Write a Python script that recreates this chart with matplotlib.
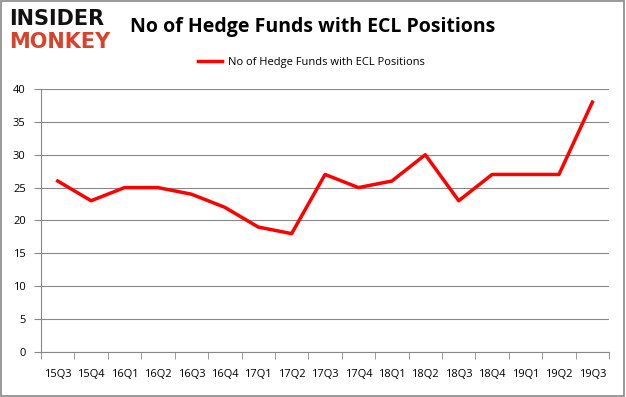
import numpy as np
import matplotlib
matplotlib.use("Agg")
import matplotlib.pyplot as plt
from matplotlib.patches import Rectangle

quarters = ["15Q3", "15Q4", "16Q1", "16Q2", "16Q3", "16Q4", "17Q1", "17Q2", "17Q3",
            "17Q4", "18Q1", "18Q2", "18Q3", "18Q4", "19Q1", "19Q2", "19Q3"]
hedge_funds = [26, 23, 25, 25, 24, 22, 19, 18, 27, 25, 26, 30, 23, 27, 27, 27, 38]
y_ticks = [0, 5, 10, 15, 20, 25, 30, 35, 40]

plt.rcParams["font.family"] = ["Open Sans", "DejaVu Sans"]

fig = plt.figure(figsize=(6.26, 3.97), dpi=100)
ax = fig.add_axes([0.0655, 0.1134, 0.9075, 0.6625])

x = np.arange(len(quarters))
ax.plot(x, hedge_funds, color="#ff0000", lw=2.5, label="No of Hedge Funds with ECL Positions")

ax.set_xlim(-0.5, len(quarters) - 0.5)
ax.set_ylim(0, 40)
ax.set_yticks(y_ticks)
ax.set_yticklabels([str(v) for v in y_ticks], fontsize=8)
ax.set_xticks(x)
ax.set_xticklabels(quarters, fontsize=8)
ax.set_xticks(np.arange(-0.5, len(quarters)), minor=True)
ax.tick_params(axis="x", which="major", length=0, pad=12)
ax.tick_params(axis="x", which="minor", length=5, color="#888888", direction="out")
ax.tick_params(axis="y", length=5, color="#888888", direction="out", pad=6)
ax.grid(axis="y", color="#888888", lw=0.8)
ax.set_axisbelow(True)
for side in ["top", "right"]:
    ax.spines[side].set_visible(False)
for side in ["left", "bottom"]:
    ax.spines[side].set_color("#888888")

leg = fig.legend(loc="center", bbox_to_anchor=(0.497, 0.842), frameon=False,
                 fontsize=8, handlelength=2.2, handletextpad=0.5)

fig.text(0.5, 0.932, "No of Hedge Funds with ECL Positions", ha="center", va="center",
         fontsize=14, fontweight="bold")
fig.text(0.014, 0.953, "INSIDER", ha="left", va="center", fontsize=15, fontweight="black",
         color="#111111", family="DejaVu Sans")
fig.text(0.014, 0.895, "MONKEY", ha="left", va="center", fontsize=15, fontweight="black",
         color="#d9412b", family="DejaVu Sans")

fig.patches.append(Rectangle((0.002, 0.003), 0.995, 0.994, transform=fig.transFigure,
                             fill=False, edgecolor="#888888", lw=1.2))

fig.savefig("out.png", dpi=100)
